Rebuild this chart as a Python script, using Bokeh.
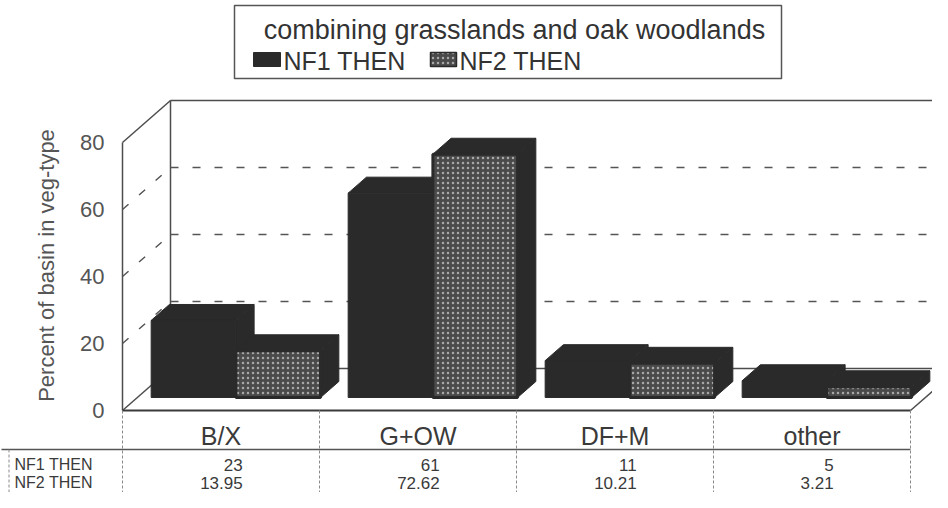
import math
from bokeh.plotting import figure
from bokeh.models import Range1d
from bokeh.core.properties import value
from bokeh.embed import file_html
from bokeh.resources import INLINE

# ---------------- data ----------------
categories = ["B/X", "G+OW", "DF+M", "other"]
series_names = ["NF1 THEN", "NF2 THEN"]
nf1_then = [23, 61, 11, 5]
nf2_then = [13.95, 72.62, 10.21, 3.21]
nf1_labels = ["23", "61", "11", "5"]
nf2_labels = ["13.95", "72.62", "10.21", "3.21"]
y_ticks = [0, 20, 40, 60, 80]
y_tick_labels = ["0", "20", "40", "60", "80"]
legend_title = "combining grasslands and oak woodlands"
y_axis_label = "Percent of basin in veg-type"

# ---------------- layout (picture pixels -> data) ----------------
W, H = 932, 492
PAGE_OFF = 0
OX, OY = 122.0, 410.0        # front-plane origin (px)
CAT_PX = 197.0               # px per category on the front plane
VAL_PX = 3.35                # px per percent on the front plane
Y_MAX = 80


def U(px):
    return (px - OX) / CAT_PX


def V(py):
    return (OY - py) / VAL_PX


DX = 48.0 / CAT_PX           # depth offset of back wall (x)
DY = 42.0 / VAL_PX           # depth offset of back wall (y)
F0, F1 = 0.31, 0.69          # bar depth span (fraction of depth)
GAP, BW = 0.07, 0.43         # gap and bar width (category units)
N = len(categories)

FONT = value("Liberation Sans")
DARK = "#2a2a2a"
LINE = "#4d4d4d"

p = figure(width=W, height=H, output_backend="svg", toolbar_location=None,
           x_range=Range1d(U(PAGE_OFF), U(PAGE_OFF + W)),
           y_range=Range1d(V(PAGE_OFF + H), V(PAGE_OFF)),
           min_border=0, background_fill_color="white",
           border_fill_color="white", outline_line_color=None)
p.xaxis.visible = False
p.yaxis.visible = False
p.grid.visible = False

# ---------------- walls and floor ----------------
wall_xs = [
    [0, 0], [0, DX], [DX, DX], [DX, N + DX + 0.3], [DX, N + DX],
    [0, DX], [N, N + DX],
]
wall_ys = [
    [0, Y_MAX], [Y_MAX, Y_MAX + DY], [DY, Y_MAX + DY], [Y_MAX + DY, Y_MAX + DY],
    [DY, DY], [0, DY], [0, DY],
]
p.multi_line(wall_xs, wall_ys, line_color=LINE, line_width=1.5)

grid_levels = [t for t in y_ticks if 0 < t < Y_MAX]
gx = [[DX, N + DX] for t in grid_levels] + [[0, DX] for t in grid_levels]
gy = [[t + DY, t + DY] for t in grid_levels] + [[t, t + DY] for t in grid_levels]
p.multi_line(gx, gy, line_color="#555555", line_width=1.5, line_dash="8 14")

# front floor / table top line
p.line([0, N], [0, 0], line_color="#3a3a3a", line_width=2)

# ---------------- bars ----------------
d = F1 - F0
ddx, ddy = d * DX, d * DY
dark_xs, dark_ys = [], []
front2_xs, front2_ys = [], []
for i in range(N):
    for s, vals in enumerate([nf1_then, nf2_then]):
        val = vals[i]
        x0 = i + GAP + s * BW + F0 * DX
        x1 = x0 + BW
        y0 = F0 * DY
        y1 = y0 + val
        side_x = [x1, x1 + ddx, x1 + ddx, x1]
        side_y = [y0, y0 + ddy, y1 + ddy, y1]
        top_x = [x0, x1, x1 + ddx, x0 + ddx]
        top_y = [y1, y1, y1 + ddy, y1 + ddy]
        front_x = [x0, x1, x1, x0]
        front_y = [y0, y0, y1, y1]
        dark_xs += [side_x, top_x]
        dark_ys += [side_y, top_y]
        if s == 0:
            dark_xs.append(front_x)
            dark_ys.append(front_y)
        else:
            front2_xs.append(front_x)
            front2_ys.append(front_y)

p.patches(dark_xs, dark_ys, fill_color=DARK, line_color=DARK, line_width=1)
p.patches(front2_xs, front2_ys, fill_color="#4a4a4a", line_color=DARK,
          line_width=3, hatch_pattern="dot", hatch_color="#d0d0d0",
          hatch_scale=5, hatch_weight=1, hatch_alpha=0.7)

# ---------------- y axis texts ----------------
p.text(x=[U(104)] * len(y_ticks), y=y_ticks, text=y_tick_labels,
       text_font=FONT, text_font_size="22px", text_align="right",
       text_baseline="middle", text_color="#555555")
p.text(x=[U(46)], y=[V(265)], text=[y_axis_label], angle=math.pi / 2,
       text_font=FONT, text_font_size="22px", text_align="center",
       text_baseline="middle", text_color="#555555")

# ---------------- data table ----------------
ROW_SEP = 449
ROW_Y = [464, 482]
p.line([U(PAGE_OFF + 1), N], [V(ROW_SEP), V(ROW_SEP)], line_color="#555555",
       line_width=1.5)
vx = [[i, i] for i in range(N + 1)] + [[U(PAGE_OFF + 8.5), U(PAGE_OFF + 8.5)]]
vy = [[0, V(PAGE_OFF + H)] for i in range(N + 1)] + [[V(ROW_SEP), V(PAGE_OFF + H)]]
p.multi_line(vx, vy, line_color="#8a8a8a", line_width=1, line_dash="3 2")

p.text(x=[i + 0.5 for i in range(N)], y=[V(435)] * N, text=categories,
       text_font=FONT, text_font_size="25px", text_align="center",
       text_baseline="middle", text_color="#3a3a3a")
p.text(x=[U(14)] * 2, y=[V(ROW_Y[0]), V(ROW_Y[1])], text=series_names,
       text_font=FONT, text_font_size="16px", text_align="left",
       text_baseline="middle", text_color="#3a3a3a")
p.text(x=[i + 0.61 for i in range(N)], y=[V(ROW_Y[0])] * N, text=nf1_labels,
       text_font=FONT, text_font_size="17px", text_align="right",
       text_baseline="middle", text_color="#3a3a3a")
p.text(x=[i + 0.61 for i in range(N)], y=[V(ROW_Y[1])] * N, text=nf2_labels,
       text_font=FONT, text_font_size="17px", text_align="right",
       text_baseline="middle", text_color="#3a3a3a")

# ---------------- legend ----------------
p.quad(left=[U(234)], right=[U(781)], bottom=[V(78)], top=[V(5)],
       fill_color=None, line_color="#555555", line_width=1.5)
p.text(x=[U(514)], y=[V(29)], text=[legend_title], text_font=FONT,
       text_font_size="27px", text_align="center", text_baseline="middle",
       text_color="#333333")
p.quad(left=[U(253)], right=[U(280)], bottom=[V(66)], top=[V(52)],
       fill_color=DARK, line_color=DARK)
p.quad(left=[U(430)], right=[U(456)], bottom=[V(66)], top=[V(52)],
       fill_color="#4a4a4a", line_color=DARK, line_width=1.5,
       hatch_pattern="dot", hatch_color="#d0d0d0", hatch_scale=5,
       hatch_weight=1, hatch_alpha=0.7)
p.text(x=[U(283), U(459)], y=[V(60)] * 2, text=series_names, text_font=FONT,
       text_font_size="25px", text_align="left", text_baseline="middle",
       text_color="#333333")

open("out.html", "w").write(file_html(p, INLINE))
